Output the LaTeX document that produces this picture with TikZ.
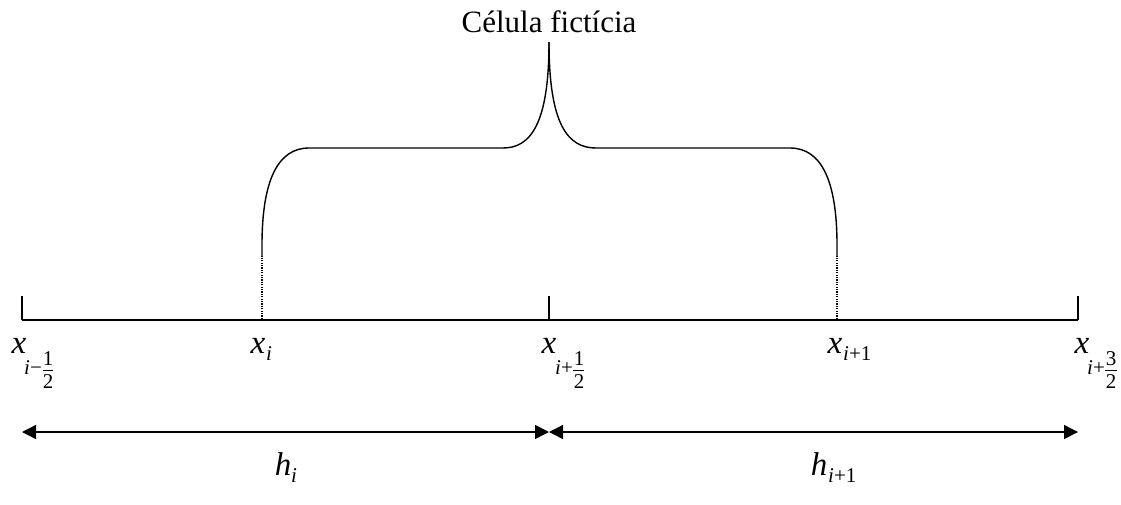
\documentclass[tikz,border=0pt]{standalone}
\usepackage{fontspec}
\setmainfont{Liberation Serif}
\usetikzlibrary{arrows.meta}
\begin{document}
\begin{tikzpicture}[x=1pt,y=-1pt,
  big/.style={font=\fontsize{33}{36}\selectfont\itshape, inner sep=0pt, anchor=base},
  title/.style={font=\fontsize{31}{36}\selectfont, inner sep=0pt, anchor=base},
  sub/.style={font=\fontsize{21}{24}\selectfont, inner sep=0pt, anchor=base west},
  num/.style={font=\fontsize{21}{24}\selectfont, inner sep=0pt, anchor=base},
  axis/.style={line width=1.8pt},
  tick/.style={line width=1.4pt},
  brace/.style={line width=1.4pt},
  dots/.style={line width=1.1pt, dash pattern=on 1.2pt off 1.2pt},
  dim/.style={line width=1.4pt, {Triangle[length=14pt,width=14pt]}-{Triangle[length=14pt,width=14pt]}},
  fbar/.style={line width=0.9pt}]
\useasboundingbox (0,0) rectangle (1121,504);

% axis and ticks
\coordinate (a0) at (22,320);
\coordinate (a1) at (549,320);
\coordinate (a2) at (1078,320);
\coordinate (t0) at (22,296);
\coordinate (t1) at (549,296);
\coordinate (t2) at (1078,296);
\draw[axis] (a0) -- (a2);
\draw[tick] (a0) -- (t0);
\draw[tick] (a1) -- (t1);
\draw[tick] (a2) -- (t2);

% dotted lines at x_i and x_{i+1}
\coordinate (d0) at (262,319);
\coordinate (d1) at (262,256);
\coordinate (e0) at (837,319);
\coordinate (e1) at (837,256);
\draw[dots] (d0) -- (d1);
\draw[dots] (e0) -- (e1);

% brace
\coordinate (peak) at (549,42);
\draw[brace] (d1) -- (262,245) .. controls (262,180) and (278,148) .. (309,148)
  -- (503,148) .. controls (530,148) and (549,125) .. (peak);
\draw[brace] (e1) -- (837,245) .. controls (837,180) and (821,148) .. (790,148)
  -- (596,148) .. controls (568,148) and (549,125) .. (peak);
\node[title] (ttl) at (549,32) {Célula fictícia};

% labels x_{i-1/2}
\node[big] (x0) at (19,353) {x};
\node[sub] (x0s) at (24,374) {\itshape i\/\upshape −};
\node[num] (x0n) at (48,365) {1};
\draw[fbar] (43,370) -- (53,370);
\node[num] (x0d) at (48,388) {2};

% x_i
\node[big] (x1) at (258,353) {x};
\node[sub] (x1s) at (266,360) {\itshape i};

% x_{i+1/2}
\node[big] (x2) at (549,353) {x};
\node[sub] (x2s) at (555,374) {\itshape i\/\upshape +};
\node[num] (x2n) at (579,365) {1};
\draw[fbar] (573,370) -- (584,370);
\node[num] (x2d) at (579,388) {2};

% x_{i+1}
\node[big] (x3) at (835,353) {x};
\node[sub] (x3s) at (843,360) {\itshape i\/\upshape +1};

% x_{i+3/2}
\node[big] (x4) at (1082,353) {x};
\node[sub] (x4s) at (1087,374) {\itshape i\/\upshape +};
\node[num] (x4n) at (1111,365) {3};
\draw[fbar] (1105,370) -- (1117,370);
\node[num] (x4d) at (1111,388) {2};

% dimension arrows
\coordinate (b0) at (22,432);
\coordinate (b1) at (549,432);
\coordinate (b2) at (1078,432);
\draw[dim] (b0) -- (b1);
\draw[dim] (b1) -- (b2);

% h labels
\node[big] (h0) at (283,475) {h};
\node[sub] (h0s) at (291,482) {\itshape i};
\node[big] (h1) at (819,475) {h};
\node[sub] (h1s) at (828,482) {\itshape i\/\upshape +1};
\end{tikzpicture}
\end{document}
